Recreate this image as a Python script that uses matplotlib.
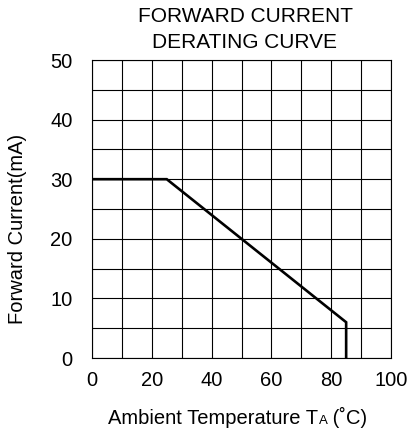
import matplotlib
matplotlib.use("Agg")
import matplotlib.pyplot as plt
from matplotlib.ticker import MultipleLocator
from matplotlib.transforms import offset_copy

plt.rcParams['font.family'] = ['Liberation Sans', 'DejaVu Sans']

temps = [0, 25, 85, 85]
currents = [30, 30, 6, 0]
x_ticks = [0, 20, 40, 60, 80, 100]
y_ticks = [0, 10, 20, 30, 40, 50]

W, H = 413, 432
fig = plt.figure(figsize=(W / 100, H / 100), dpi=100)
ax = fig.add_axes([92 / W, 1 - 358 / H, (391 - 92) / W, (358 - 60) / H])

ax.set_xlim(0, 100)
ax.set_ylim(0, 50)
ax.xaxis.set_minor_locator(MultipleLocator(10))
ax.yaxis.set_minor_locator(MultipleLocator(5))
ax.set_xticks(x_ticks)
ax.set_yticks(y_ticks)
ax.grid(True, which='both', color='black', linewidth=0.8)
ax.set_axisbelow(True)
ax.tick_params(which='both', length=0, labelsize=14.5, colors='black')
ax.tick_params(axis='x', pad=9)
ax.tick_params(axis='y', pad=14)
for s in ax.spines.values():
    s.set_linewidth(0.8)
    s.set_color('black')

ax.plot(temps, currents, color='black', linewidth=1.9, solid_joinstyle='miter')

fig.text(245 / W, 1 - 16 / H, "FORWARD CURRENT", ha='center', va='center', fontsize=15)
fig.text(245 / W, 1 - 42 / H, "DERATING CURVE", ha='center', va='center', fontsize=15)

fig.text(18 / W, 1 - 229 / H, "Forward Current(mA)", rotation=90, ha='center', va='center', fontsize=14.5)

# x label composed of pieces so the "A" is small and on the baseline
fig.canvas.draw()
r = fig.canvas.get_renderer()
parts = [("Ambient Temperature T", 14.5), ("A", 9.5), (" (˚C)", 14.5)]
widths = []
for txt, fs in parts:
    t = fig.text(0, 0, txt, fontsize=fs)
    widths.append(t.get_window_extent(r).width)
    t.remove()
total = sum(widths)
x0 = 238 - total / 2
base_y = H - 424
for (txt, fs), w in zip(parts, widths):
    fig.text(x0 / W, base_y / H, txt, fontsize=fs, ha='left', va='baseline')
    x0 += w

fig.savefig("out.png", dpi=100)
